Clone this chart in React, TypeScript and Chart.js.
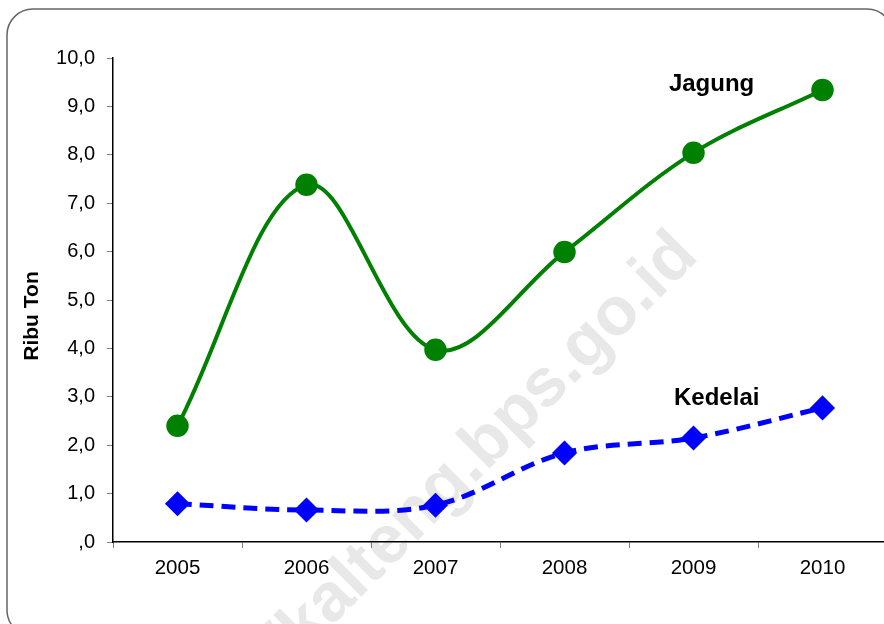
import React, { useEffect, useRef } from "react";
import { Chart, registerables } from "chart.js";

Chart.register(...registerables);

const years = ["2005", "2006", "2007", "2008", "2009", "2010"];
const jagung = [2.4, 7.38, 3.97, 5.99, 8.04, 9.34];
const kedelai = [0.79, 0.66, 0.76, 1.84, 2.15, 2.77];
const yTickLabels = [",0", "1,0", "2,0", "3,0", "4,0", "5,0", "6,0", "7,0", "8,0", "9,0", "10,0"];
const seriesNames = ["Jagung", "Kedelai"];
const yTitle = "Ribu Ton";
const watermark = "http://kalteng.bps.go.id";

const FONT = "'Liberation Sans', Arial, Helvetica, sans-serif";

export default function App() {
  const ref = useRef<HTMLCanvasElement>(null);

  useEffect(() => {
    const canvas = ref.current;
    if (!canvas) return;

    const decor = {
      id: "decor",
      beforeDraw(chart: any) {
        const ctx = chart.ctx;
        ctx.save();
        // watermark
        ctx.translate(700, 258);
        ctx.rotate(-Math.PI / 4);
        ctx.font = `bold 68px ${FONT}`;
        ctx.fillStyle = "#e8e8e8";
        ctx.textAlign = "right";
        ctx.textBaseline = "alphabetic";
        ctx.fillText(watermark, 0, 0);
        ctx.restore();

        // rounded frame
        ctx.save();
        ctx.strokeStyle = "#666666";
        ctx.lineWidth = 1.5;
        const x = 7, y = 9, w = 886, h = 627, r = 26;
        ctx.beginPath();
        ctx.moveTo(x + r, y);
        ctx.lineTo(x + w - r, y);
        ctx.arcTo(x + w, y, x + w, y + r, r);
        ctx.lineTo(x + w, y + h - r);
        ctx.arcTo(x + w, y + h, x + w - r, y + h, r);
        ctx.lineTo(x + r, y + h);
        ctx.arcTo(x, y + h, x, y + h - r, r);
        ctx.lineTo(x, y + r);
        ctx.arcTo(x, y, x + r, y, r);
        ctx.closePath();
        ctx.stroke();
        ctx.restore();
      },
      afterDraw(chart: any) {
        const ctx = chart.ctx;
        const xs = chart.scales.x;
        const ys = chart.scales.y;
        ctx.save();
        ctx.fillStyle = "#000";
        ctx.font = `bold 24px ${FONT}`;
        ctx.textAlign = "center";
        ctx.textBaseline = "alphabetic";
        ctx.fillText(seriesNames[0], xs.getPixelForValue(4.14), ys.getPixelForValue(9.32));
        ctx.fillText(seriesNames[1], xs.getPixelForValue(4.18), ys.getPixelForValue(2.83));

        ctx.translate(32, (ys.top + ys.bottom) / 2 + 16);
        ctx.rotate(-Math.PI / 2);
        ctx.font = `bold 21px ${FONT}`;
        ctx.textBaseline = "middle";
        ctx.fillText(yTitle, 0, 0);
        ctx.restore();
      },
    };

    const chart = new Chart(canvas, {
      type: "line",
      data: {
        labels: years,
        datasets: [
          {
            label: seriesNames[0],
            data: jagung,
            borderColor: "#008000",
            backgroundColor: "#008000",
            borderWidth: 4,
            pointStyle: "circle",
            pointRadius: 10.5,
            pointBackgroundColor: "#008000",
            pointBorderColor: "#008000",
            pointBorderWidth: 1.5,
            tension: 0.35,
          },
          {
            label: seriesNames[1],
            data: kedelai,
            borderColor: "#0000ff",
            backgroundColor: "#0000ff",
            borderWidth: 5,
            borderDash: [14, 8],
            pointStyle: "rectRot",
            pointRadius: 11.5,
            pointBackgroundColor: "#0000ff",
            pointBorderColor: "#0000ff",
            pointBorderWidth: 1.5,
            tension: 0.35,
          },
        ],
      },
      options: {
        animation: false,
        responsive: false,
        devicePixelRatio: 1,
        layout: { padding: { left: 0, right: 11, top: 58, bottom: 0 } },
        plugins: {
          legend: { display: false },
          tooltip: { enabled: false },
        },
        scales: {
          x: {
            type: "category",
            offset: true,
            grid: {
              offset: true,
              drawOnChartArea: false,
              drawTicks: true,
              tickLength: 6,
              color: "#808080",
            },
            border: { display: true, color: "#000", width: 1.5 },
            ticks: {
              color: "#000",
              font: { family: FONT, size: 20.5 },
              padding: 8,
              maxRotation: 0,
            },
            afterFit(scale: any) {
              scale.height = 82;
            },
          },
          y: {
            min: 0,
            max: 10,
            grid: {
              drawOnChartArea: false,
              drawTicks: true,
              tickLength: 6,
              color: "#808080",
            },
            border: { display: true, color: "#000", width: 1.5 },
            ticks: {
              stepSize: 1,
              color: "#000",
              font: { family: FONT, size: 20 },
              padding: 12,
              callback: (_v: any, i: number) => yTickLabels[i],
            },
            afterFit(scale: any) {
              scale.width = 113;
            },
          },
        },
      },
      plugins: [decor],
    });

    return () => chart.destroy();
  }, []);

  return (
    <div
      style={{
        position: "fixed",
        left: 0,
        top: 0,
        width: 884,
        height: 624,
        overflow: "hidden",
        background: "#fff",
      }}
    >
      <canvas ref={ref} width={900} height={624} style={{ display: "block" }} />
    </div>
  );
}
